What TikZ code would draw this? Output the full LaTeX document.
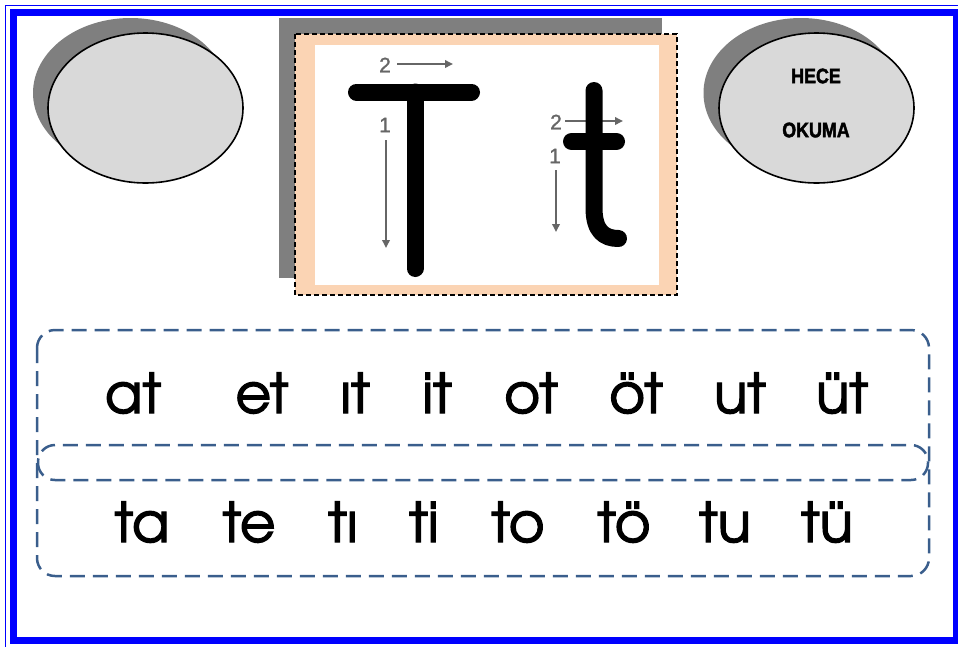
\documentclass[tikz,border=0pt]{standalone}
\usepackage{fontspec}
\setmainfont{Liberation Sans}
\newfontfamily\sylfont[FakeBold=2.2]{texgyreadventor-regular.otf}
\newfontfamily\ovalfont[FakeStretch=0.85,FakeBold=2]{Liberation Sans Bold}
\newfontfamily\digitfont[FakeBold=1.2]{Liberation Sans}
\usetikzlibrary{shapes.geometric,arrows.meta}
\definecolor{frameblue}{HTML}{0000FF}
\definecolor{dashblue}{HTML}{3A5E8C}
\definecolor{peach}{HTML}{FBD4B4}
\definecolor{shadowgray}{HTML}{7F7F7F}
\definecolor{ovalgray}{HTML}{D9D9D9}
\definecolor{guidegray}{HTML}{666666}
\begin{document}
\begin{tikzpicture}[x=1pt,y=-1pt,
  oval/.style={ellipse, draw=black, line width=1.6pt, fill=ovalgray, minimum width=195pt, minimum height=150pt, inner sep=0pt},
  ovalshadow/.style={ellipse, fill=shadowgray, minimum width=195pt, minimum height=150pt, inner sep=0pt},
  ovaltext/.style={inner sep=0pt, font=\ovalfont\fontsize{21}{22}\selectfont},
  word/.style={anchor=base, inner sep=0pt, font=\sylfont\fontsize{55}{60}\selectfont},
  rowbox/.style={draw=dashblue, line width=2.5pt, dash pattern=on 15pt off 8pt, rounded corners=18pt},
  glyph/.style={line width=17pt, line cap=round, line join=round},
  guide/.style={draw=guidegray, line width=1.8pt, -{Triangle[length=8pt,width=7.5pt]}},
  digit/.style={text=guidegray, font=\digitfont\fontsize{21}{21}\selectfont, inner sep=0pt}
]
\useasboundingbox (0,0) rectangle (958,646);
% frame
\begin{scope}
\clip (0,0) rectangle (958,646);
\draw[frameblue, line width=1pt] (5.5,5.5) rectangle (964,652);
\draw[frameblue, line width=7pt] (13,12.7) rectangle (956.5,640.5);
\end{scope}
% ovals
\node[ovalshadow] (ls) at (130.5,93) {};
\node[oval] (lo) at (145.5,108) {};
\node[ovalshadow] (rs) at (801,93) {};
\node[oval] (ro) at (816.5,108) {};
\node[ovaltext] (hece) at (816,76) {HECE};
\node[ovaltext] (okuma) at (816,130) {OKUMA};
% letter card
\fill[shadowgray] (279,18) rectangle (662,278);
\draw[fill=peach, line width=1.3pt, dash pattern=on 5pt off 3pt] (295,34) rectangle (677,295);
\fill[white] (315,45) rectangle (659,285);
% guides
\node[digit] (d2a) at (385,65) {2};
\node[digit] (d1a) at (385,125) {1};
\node[digit] (d2b) at (556,122) {2};
\node[digit] (d1b) at (555,156) {1};
\coordinate (g2as) at (397,64); \coordinate (g2ae) at (453,64);
\coordinate (g1as) at (386,140); \coordinate (g1ae) at (386,248);
\coordinate (g2bs) at (565,121); \coordinate (g2be) at (623,121);
\coordinate (g1bs) at (556,170); \coordinate (g1be) at (556,232);
\draw[guide] (g2as) -- (g2ae);
\draw[guide] (g1as) -- (g1ae);
\draw[guide] (g2bs) -- (g2be);
\draw[guide] (g1bs) -- (g1be);
% T
\draw[glyph] (356.5,92) -- (471.5,92);
\draw[glyph] (415,92) -- (415,268.5);
% t
\draw[glyph] (571.5,141.5) -- (616.5,141.5);
\draw[glyph] (594,90.5) -- (594,208) .. controls (594,231) and (604,238.5) .. (618.5,238.5);
% syllable boxes
\draw[rowbox] (37,330) rectangle (929,576);
\draw[rowbox, rounded corners=17pt] (38,445) rectangle (928,480);
% row 1
\node[word] (a1) at (133,413) {at};
\node[word] (a2) at (262,413) {et};
\node[word] (a3) at (355,413) {ıt};
\node[word] (a4) at (437,413) {it};
\node[word] (a5) at (531,413) {ot};
\node[word] (a6) at (636,413) {öt};
\node[word] (a7) at (740,413) {ut};
\node[word] (a8) at (842,413) {üt};
% row 2
\node[word] (b1) at (142,542) {ta};
\node[word] (b2) at (249,542) {te};
\node[word] (b3) at (343,542) {tı};
\node[word] (b4) at (424,542) {ti};
\node[word] (b5) at (518,542) {to};
\node[word] (b6) at (624,542) {tö};
\node[word] (b7) at (725,542) {tu};
\node[word] (b8) at (827,542) {tü};
\end{tikzpicture}
\end{document}
